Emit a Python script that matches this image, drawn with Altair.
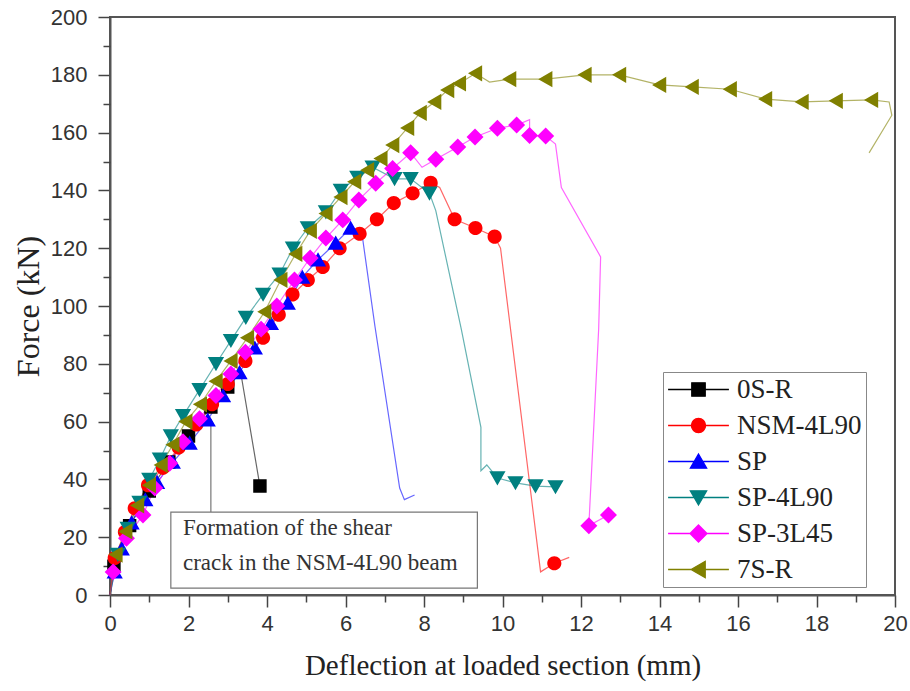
import altair as alt
import pandas as pd

# Specimens, plotting order and colours
names = ["0S-R", "NSM-4L90", "SP", "SP-4L90", "SP-3L45", "7S-R"]
colors = ["#000000", "#ff0000", "#0000ff", "#008080", "#ff00ff", "#808000"]

# Load-deflection records: deflection (mm), force (kN), and 1 where a symbol is drawn
s0_x = [0.0, 0.1, 0.5, 1.0, 1.5, 2.0, 2.57, 3.0, 3.33, 3.82]
s0_y = [0, 10, 24, 36, 46, 55, 65, 72, 77, 37.7]
s0_m = [0, 1, 1, 1, 1, 1, 1, 1, 0, 1]

nsm_x = [0.0, 0.12, 0.38, 0.63, 0.97, 1.35, 1.75, 2.2, 2.6, 3.0, 3.45, 3.9, 4.3, 4.65,
         5.04, 5.42, 5.85, 6.36, 6.8, 7.23, 7.71, 8.17, 8.4, 8.78, 9.31, 9.8, 9.95,
         10.97, 11.32, 11.7]
nsm_y = [0, 12.8, 21.8, 30, 38, 44, 51, 59, 66, 73, 81, 89, 97, 104,
         109, 113.5, 120, 125, 130, 135.6, 139, 142.6, 141, 130, 127, 124, 120,
         8, 11, 13]
nsm_m = [0, 1, 1, 1, 1, 1, 1, 1, 1, 1, 1, 1, 1, 1,
         1, 1, 1, 1, 1, 1, 1, 1, 0, 1, 1, 1, 0,
         0, 1, 0]

sp_x = [0.0, 0.12, 0.3, 0.55, 0.9, 1.2, 1.6, 2.03, 2.49, 2.88, 3.3, 3.69, 4.1, 4.53,
        4.9, 5.3, 5.75, 6.13, 6.44, 6.75, 7.38, 7.5, 7.76]
sp_y = [0, 8, 16, 25, 33, 39, 46, 52.6, 60.6, 69, 77, 85.5, 94, 101,
        110, 116, 121.8, 127, 123, 93, 37, 33, 34.6]
sp_m = [0, 1, 1, 1, 1, 1, 1, 1, 1, 1, 1, 1, 1, 1,
        1, 1, 1, 1, 0, 0, 0, 0, 0]

sp4_x = [0.0, 0.2, 0.45, 0.75, 1.0, 1.27, 1.55, 1.86, 2.28, 2.7, 3.08, 3.46, 3.9, 4.32,
         4.66, 5.04, 5.5, 5.88, 6.3, 6.69, 7.25, 7.66, 8.14, 8.3, 8.95, 9.45, 9.45,
         9.6, 9.87, 10.33, 10.84, 11.35]
sp4_y = [0, 14, 23, 32, 40, 47, 55, 62, 71, 80, 88, 96, 104, 111,
         120, 127, 132.5, 140, 144.5, 148, 144, 144, 139, 133, 92, 58, 43,
         45, 40.5, 38.8, 37.7, 37.4]
sp4_m = [0, 1, 1, 1, 1, 1, 1, 1, 1, 1, 1, 1, 1, 1,
         1, 1, 1, 1, 1, 1, 1, 1, 1, 0, 0, 0, 0,
         0, 1, 1, 1, 1]

sp3_x = [0.0, 0.08, 0.42, 0.84, 1.14, 1.52, 1.86, 2.28, 2.7, 3.08, 3.45, 3.85, 4.25,
         4.7, 5.1, 5.5, 5.93, 6.34, 6.77, 7.2, 7.66, 7.95, 8.3, 8.86, 9.3, 9.87,
         10.36, 10.69, 10.69, 11.1, 11.35, 11.5, 12.5, 12.45, 12.2, 12.7]
sp3_y = [0, 8, 19.6, 27.7, 37, 45.6, 53, 61, 69, 76.5, 84, 92, 100,
         109, 116.6, 123.5, 129.8, 136.7, 142.5, 147.6, 153, 148, 150.8, 155, 158.5, 161.5,
         162.6, 164.5, 159, 158.8, 156, 141, 117, 92, 24, 27.7]
sp3_m = [0, 1, 1, 1, 1, 1, 1, 1, 1, 1, 1, 1, 1,
         1, 1, 1, 1, 1, 1, 1, 1, 0, 1, 1, 1, 1,
         1, 0, 1, 1, 0, 0, 0, 0, 1, 1]

s7_x = [0.0, 0.15, 0.4, 0.7, 1.0, 1.3, 1.6, 1.93, 2.3, 2.7, 3.08, 3.5, 3.94, 4.35, 4.73,
        5.1, 5.5, 5.88, 6.23, 6.56, 6.9, 7.2, 7.58, 7.9, 8.27, 8.6, 8.9, 9.31, 9.67,
        10.18, 11.1, 12.1, 12.98, 14.0, 14.83, 15.8, 16.7, 17.63, 18.5, 19.4, 19.85,
        19.92, 19.34]
s7_y = [0, 14, 22, 31, 38, 45, 52, 60, 66, 74, 81, 89, 98, 109, 118,
        126, 132, 137.7, 143, 147, 151, 155.7, 161.6, 166.8, 170.6, 174.7, 177, 180.5, 177.5,
        178.5, 178.5, 180, 180, 176.5, 175.8, 175, 171.6, 170.6, 171, 171.3, 170.6,
        166, 153]
s7_m = [0, 1, 1, 1, 1, 1, 1, 1, 1, 1, 1, 1, 1, 1, 1,
        1, 1, 1, 1, 1, 1, 1, 1, 1, 1, 1, 1, 1, 0,
        1, 1, 1, 1, 1, 1, 1, 1, 1, 1, 1, 0,
        0, 0]

# Note about the shear crack
note_lines = ["Formation of the shear", "crack in the NSM-4L90 beam"]
note_line_y = [23.2, 11.1]
note_x = 1.86
note_box = {"x": 1.55, "x2": 9.36, "y": 2.4, "y2": 28.7}
pointer = {"x": 2.57, "y": 28.7, "y2": 60.0}

# Symbol paths; the short horizontal stubs only show up where a stroke is applied (legend)
L = 4.3
marker_paths = [
    f"M-{L},0H-0.95M0.95,0H{L}M-0.95,-0.95H0.95V0.95H-0.95Z",
    f"M-{L},0H-1M1,0H{L}M1,0A1,1,0,1,1,-1,0A1,1,0,1,1,1,0Z",
    f"M-{L},0H-0.65M0.65,0H{L}M0,-1.05L1.15,0.95H-1.15Z",
    f"M-{L},0H-0.65M0.65,0H{L}M0,1.05L1.15,-0.95H-1.15Z",
    f"M-{L},0H-1.2M1.2,0H{L}M0,-1.2L1.2,0L0,1.2L-1.2,0Z",
    f"M-{L},0H-1.05M0.95,0H{L}M-1.05,0L0.95,-1.15V1.15Z",
]

all_x = [s0_x, nsm_x, sp_x, sp4_x, sp3_x, s7_x]
all_y = [s0_y, nsm_y, sp_y, sp4_y, sp3_y, s7_y]
all_m = [s0_m, nsm_m, sp_m, sp4_m, sp3_m, s7_m]

rows = []
for k, (name, xs, ys, ms) in enumerate(zip(names, all_x, all_y, all_m)):
    for i, (x, y, m) in enumerate(zip(xs, ys, ms)):
        rows.append({"series": name, "lc": colors[k], "idx": i, "d": x, "f": y, "mk": m})
df = pd.DataFrame(rows)

xscale = alt.Scale(domain=[0, 20], nice=False, zero=False)
yscale = alt.Scale(domain=[0, 200], nice=False, zero=False)

AX = dict(domainColor="#555", domainWidth=2, tickColor="#444", tickWidth=1.5,
          grid=False, labelFont="Liberation Sans", labelFontSize=22, labelColor="#333",
          labelFlush=False, titleFont="Liberation Serif", titleFontWeight="normal",
          titleColor="#222")

x_major = alt.Axis(values=list(range(0, 21, 2)), tickSize=12, labelPadding=6,
                   titlePadding=17, titleFontSize=29,
                   title="Deflection at loaded section (mm)", **AX)
y_major = alt.Axis(values=list(range(0, 201, 20)), tickSize=12, labelPadding=11,
                   titlePadding=5, titleFontSize=32, title="Force (kN)", **AX)
x_minor = alt.Axis(values=list(range(1, 20, 2)), orient="bottom", tickSize=7,
                   tickColor="#444", tickWidth=1.5, labels=False, domain=False,
                   grid=False, title=None)
y_minor = alt.Axis(values=list(range(10, 200, 20)), orient="left", tickSize=7,
                   tickColor="#444", tickWidth=1.5, labels=False, domain=False,
                   grid=False, title=None)

# Connecting lines take their colour straight from the data column (no scale, no legend)
lines = alt.Chart(df).mark_line(strokeWidth=1.2, opacity=0.6).encode(
    x=alt.X("d:Q", scale=xscale, axis=x_major),
    y=alt.Y("f:Q", scale=yscale, axis=y_major),
    color=alt.Color("lc:N", scale=None),
    detail="series:N",
    order=alt.Order("idx:Q"),
)

legend = alt.Legend(
    title=None, orient="none", legendX=553, legendY=355, direction="vertical",
    symbolSize=200, symbolStrokeWidth=1.3, symbolOffset=18, labelOffset=25,
    rowPadding=8, padding=4, strokeColor="#888", fillColor="white", labelLimit=400,
)

points = alt.Chart(df).transform_filter("datum.mk == 1").mark_point(
    filled=True, size=200, opacity=1
).encode(
    x=alt.X("d:Q", scale=xscale, axis=None),
    y=alt.Y("f:Q", scale=yscale, axis=None),
    fill=alt.Fill("series:N", scale=alt.Scale(domain=names, range=colors), legend=legend),
    stroke=alt.Stroke("series:N", scale=alt.Scale(domain=names, range=colors), legend=legend),
    shape=alt.Shape("series:N", scale=alt.Scale(domain=names, range=marker_paths), legend=legend),
    strokeWidth=alt.value(0),
)

box = alt.Chart(pd.DataFrame([note_box])).mark_rect(
    fill="white", stroke="#777", strokeWidth=1.2
).encode(
    x=alt.X("x:Q", scale=xscale, axis=None),
    x2="x2:Q",
    y=alt.Y("y:Q", scale=yscale, axis=None),
    y2="y2:Q",
)

note = alt.Chart(pd.DataFrame({"t": note_lines, "y": note_line_y, "x": [note_x] * 2})).mark_text(
    align="left", baseline="middle", font="Liberation Serif", fontSize=23, color="#333"
).encode(
    x=alt.X("x:Q", scale=xscale, axis=None),
    y=alt.Y("y:Q", scale=yscale, axis=None),
    text="t:N",
)

pointer_line = alt.Chart(pd.DataFrame([pointer])).mark_rule(color="#777", strokeWidth=1.2).encode(
    x=alt.X("x:Q", scale=xscale, axis=x_minor),
    y=alt.Y("y:Q", scale=yscale, axis=y_minor),
    y2="y2:Q",
)

pointer_head = alt.Chart(pd.DataFrame([pointer])).mark_point(
    shape="triangle-up", filled=True, size=45, color="#000", opacity=1
).encode(
    x=alt.X("x:Q", scale=xscale, axis=None),
    y=alt.Y("y2:Q", scale=yscale, axis=None),
)

chart = alt.layer(lines, pointer_line, pointer_head, box, note, points).resolve_axis(
    x="independent", y="independent"
).properties(
    width=785, height=578,
    padding={"left": 12, "top": 6, "right": 2, "bottom": 5},
    background="white",
).configure_view(
    stroke="#555", strokeWidth=2
).configure_legend(
    labelFont="Liberation Serif", labelFontSize=27, labelColor="#222"
)

chart.save("out.html", embed_options={"renderer": "svg", "actions": False})
